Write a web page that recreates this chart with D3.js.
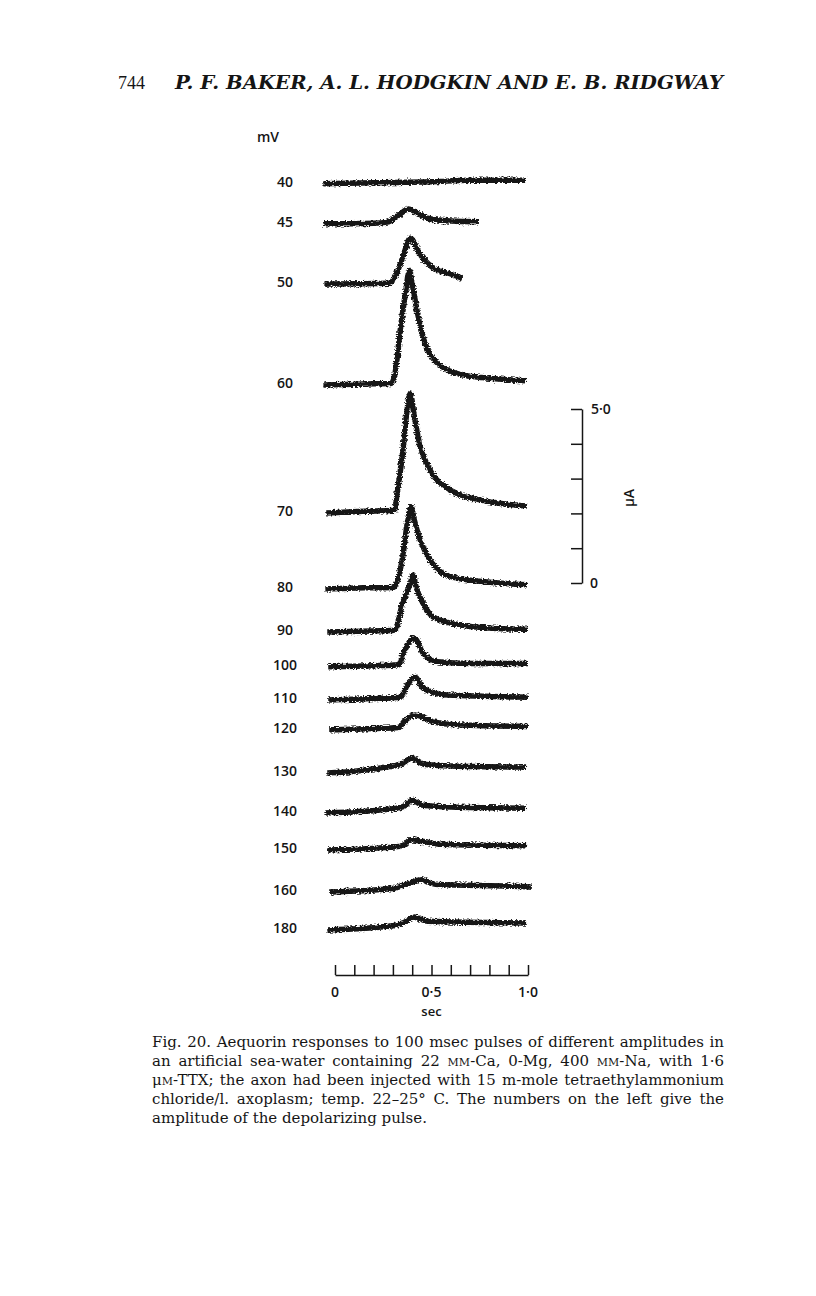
<!DOCTYPE html>
<html>
<head>
<meta charset="utf-8">
<script src="https://cdn.jsdelivr.net/npm/d3@7"></script>
<style>
  html, body { margin: 0; padding: 0; background: #fff; }
  svg { display: block; }
</style>
</head>
<body>
<div id="fig"></div>
<script>
// pulse amplitudes (mV), one trace each
const pulses = ['40', '45', '50', '60', '70', '80', '90', '100', '110', '120', '130', '140', '150', '160', '180'];

// vertical offset of each trace baseline, in µA of the calibration bar
const offsets = [11.47, 10.32, 8.59, 5.69, 2.01, -0.17, -1.41, -2.41, -3.36, -4.22, -5.46, -6.61, -7.67, -8.88, -9.97];

// light responses: [time (s), µA above baseline]
const trace40  = [[-0.06,0],[0.2,0.03],[0.5,0.06],[0.7,0.1],[0.985,0.1]];
const trace45  = [[-0.06,0],[0.2,0.02],[0.27,0.05],[0.33,0.25],[0.38,0.43],[0.43,0.3],[0.48,0.16],[0.6,0.08],[0.746,0.06]];
const trace50  = [[-0.055,0],[0.28,0.02],[0.31,0.2],[0.35,0.75],[0.39,1.32],[0.44,0.86],[0.51,0.46],[0.6,0.29],[0.66,0.17]];
const trace60  = [[-0.06,0],[0.15,0.03],[0.29,0.04],[0.31,0.3],[0.34,1.66],[0.365,2.63],[0.385,3.29],[0.4,2.9],[0.425,2.14],[0.456,1.37],[0.49,0.91],[0.56,0.51],[0.66,0.29],[0.79,0.2],[0.99,0.12]];
const trace70  = [[-0.045,0],[0.15,0.05],[0.31,0.08],[0.32,0.5],[0.35,1.7],[0.37,2.8],[0.39,3.45],[0.41,2.8],[0.44,1.94],[0.48,1.37],[0.52,1.0],[0.56,0.8],[0.65,0.51],[0.75,0.38],[0.85,0.28],[0.995,0.2]];
const trace80  = [[-0.05,0],[0.15,0.03],[0.3,0.04],[0.35,0.9],[0.375,1.9],[0.395,2.36],[0.41,2.0],[0.44,1.43],[0.48,0.94],[0.53,0.57],[0.61,0.34],[0.79,0.2],[0.995,0.12]];
const trace90  = [[-0.04,0],[0.2,0.03],[0.31,0.05],[0.35,0.83],[0.39,1.4],[0.405,1.64],[0.42,1.3],[0.456,0.83],[0.51,0.43],[0.65,0.2],[0.82,0.11],[1.0,0.08]];
const trace100 = [[-0.035,0],[0.2,0.03],[0.33,0.06],[0.355,0.4],[0.41,0.83],[0.456,0.4],[0.53,0.15],[0.7,0.1],[1.0,0.1]];
const trace110 = [[-0.035,0],[0.2,0.04],[0.34,0.08],[0.375,0.43],[0.415,0.66],[0.456,0.34],[0.58,0.14],[1.0,0.08]];
const trace120 = [[-0.03,0],[0.2,0.04],[0.33,0.07],[0.36,0.25],[0.415,0.43],[0.51,0.23],[0.65,0.14],[1.0,0.1]];
const trace130 = [[-0.04,0],[0.1,0.05],[0.2,0.12],[0.3,0.2],[0.34,0.25],[0.4,0.43],[0.46,0.25],[0.6,0.2],[0.99,0.17]];
const trace140 = [[-0.05,0],[0.3,0.12],[0.36,0.2],[0.4,0.37],[0.45,0.23],[0.6,0.17],[0.99,0.14]];
const trace150 = [[-0.04,0],[0.3,0.08],[0.36,0.15],[0.39,0.29],[0.45,0.25],[0.55,0.16],[0.99,0.12]];
const trace160 = [[-0.03,0],[0.3,0.1],[0.36,0.2],[0.45,0.35],[0.52,0.22],[0.99,0.15],[1.02,0.14]];
const trace180 = [[-0.04,0],[0.3,0.12],[0.36,0.22],[0.41,0.37],[0.48,0.25],[0.99,0.2]];
const traces = [trace40, trace45, trace50, trace60, trace70, trace80, trace90, trace100,
                trace110, trace120, trace130, trace140, trace150, trace160, trace180];

// axis ticks
const timeTicks   = d3.range(0, 11).map(i => i / 10);
const timeLabels  = [0, 0.5, 1.0];
const currentTicks = [0, 1, 2, 3, 4, 5];

const caption = [
  ['Fig. 20. Aequorin responses to 100 msec pulses of different amplitudes in'],
  ['an artificial sea-water containing 22 ', {sc: 'mm'}, '-Ca, 0-Mg, 400 ', {sc: 'mm'}, '-Na, with 1\u00b76'],
  ['\u03bc', {sc: 'm'}, '-TTX; the axon had been injected with 15 m-mole tetraethylammonium'],
  ['chloride/l. axoplasm; temp. 22\u201325\u00b0 C. The numbers on the left give the'],
  ['amplitude of the depolarizing pulse.']
];

const W = 816, H = 1296;
const ink = '#151515';
const svg = d3.select('#fig').append('svg').attr('width', W).attr('height', H);
svg.append('rect').attr('width', W).attr('height', H).attr('fill', '#fff');

// slight roughness so the thick pen strokes look like recorded noise
const defs = svg.append('defs');
const f = defs.append('filter').attr('id', 'rough').attr('x', '-5%').attr('y', '-50%').attr('width', '110%').attr('height', '200%');
f.append('feTurbulence').attr('type', 'fractalNoise').attr('baseFrequency', '0.45 0.9').attr('numOctaves', 2).attr('result', 'n');
f.append('feDisplacementMap').attr('in', 'SourceGraphic').attr('in2', 'n').attr('scale', 5)
  .attr('xChannelSelector', 'R').attr('yChannelSelector', 'G');

// page header
svg.append('text').attr('x', 145).attr('y', 89).attr('text-anchor', 'end')
  .attr('font-family', 'Liberation Serif, serif').attr('font-size', 18).attr('fill', ink)
  .text('744');
svg.append('text').attr('x', 175).attr('y', 89)
  .attr('font-family', 'DejaVu Serif, serif').attr('font-size', 18)
  .attr('font-style', 'italic').attr('font-weight', 'bold').attr('fill', ink)
  .attr('textLength', 548).attr('lengthAdjust', 'spacingAndGlyphs')
  .text('P. F. BAKER, A. L. HODGKIN AND E. B. RIDGWAY');

// scales
const x = d3.scaleLinear().domain([0, 1]).range([335, 528]);
const y = d3.scaleLinear().domain([0, 5]).range([583, 409]);

const line = d3.line()
  .x(d => x(d[0]))
  .y(d => y(d[1]))
  .curve(d3.curveMonotoneX);

const lab = "'Open Sans', 'DejaVu Sans', sans-serif";

svg.append('text').attr('x', 268).attr('y', 142).attr('text-anchor', 'middle')
  .attr('font-family', lab).attr('font-size', 14).attr('font-weight', 600).attr('fill', ink)
  .text('mV');

const g = svg.append('g').attr('filter', 'url(#rough)');
traces.forEach((tr, i) => {
  const off = offsets[i];
  g.append('path')
    .datum(tr.map(d => [d[0], d[1] + off]))
    .attr('d', line)
    .attr('fill', 'none').attr('stroke', ink)
    .attr('stroke-width', 5.5).attr('stroke-linejoin', 'round').attr('stroke-linecap', 'butt');

  svg.append('text')
    .attr('x', 285).attr('y', y(off) + 3).attr('text-anchor', 'middle')
    .attr('font-family', lab).attr('font-size', 14).attr('font-weight', 600).attr('fill', ink)
    .text(pulses[i]);
});

// time axis
const fmt = v => v === 0 ? '0' : d3.format('.1f')(v).replace('.', '\u00b7');
const ax = svg.append('g').attr('transform', 'translate(0,975)')
  .call(d3.axisTop(x).tickValues(timeTicks).tickSize(10).tickSizeOuter(0).tickFormat(''));
ax.selectAll('path, line').attr('stroke', ink).attr('stroke-width', 1.5);

timeLabels.forEach(v => {
  svg.append('text').attr('x', x(v)).attr('y', 997).attr('text-anchor', 'middle')
    .attr('font-family', lab).attr('font-size', 14).attr('font-weight', 600).attr('fill', ink)
    .text(fmt(v));
});
svg.append('text').attr('x', x(0.5)).attr('y', 1016).attr('text-anchor', 'middle')
  .attr('font-family', lab).attr('font-size', 13).attr('font-weight', 600).attr('fill', ink)
  .text('sec');

// µA calibration bar
const cal = svg.append('g').attr('transform', 'translate(582,0)')
  .call(d3.axisLeft(y).tickValues(currentTicks).tickSize(11).tickSizeOuter(0).tickFormat(''));
cal.selectAll('path, line').attr('stroke', ink).attr('stroke-width', 1.5);

svg.append('text').attr('x', 591).attr('y', y(5) + 5)
  .attr('font-family', lab).attr('font-size', 14).attr('font-weight', 600).attr('fill', ink)
  .text(fmt(5));
svg.append('text').attr('x', 590).attr('y', y(0) + 5)
  .attr('font-family', lab).attr('font-size', 14).attr('font-weight', 600).attr('fill', ink)
  .text('0');
svg.append('text').attr('transform', `translate(634,${y(2.5) + 2}) rotate(-90)`)
  .attr('text-anchor', 'middle')
  .attr('font-family', lab).attr('font-size', 14).attr('font-weight', 600).attr('fill', ink)
  .text('\u03bcA');

// caption, justified by word spacing like the printed page
const capX = 152, capW = 572;
const capLines = caption.map((parts, i) => {
  const t = svg.append('text').attr('x', capX).attr('y', 1047 + i * 19)
    .attr('font-family', 'DejaVu Serif, serif').attr('font-size', 13).attr('fill', ink);
  parts.forEach(p => {
    if (typeof p === 'string') t.append('tspan').text(p);
    else t.append('tspan').attr('font-variant', 'small-caps').text(p.sc);
  });
  return t;
});
// size the font so the first line nearly fills the measure with normal spacing
const firstW = capLines[0].node().getComputedTextLength();
const capSize = 13 * 562 / firstW;
capLines.forEach((t, i) => {
  t.attr('font-size', capSize);
  if (i === capLines.length - 1) return;
  const w = t.node().getComputedTextLength();
  const spaces = (t.text().match(/ /g) || []).length;
  if (spaces) t.attr('word-spacing', (capW - w) / spaces);
});
</script>
</body>
</html>
